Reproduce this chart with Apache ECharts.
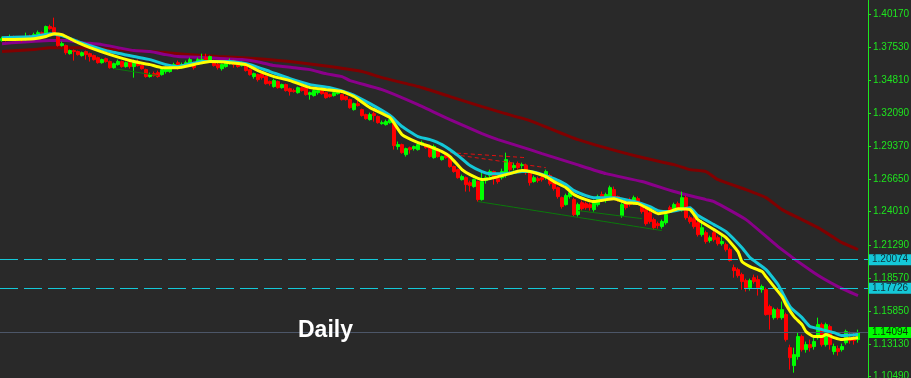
<!DOCTYPE html>
<html><head><meta charset="utf-8">
<script src="https://cdn.jsdelivr.net/npm/echarts@6/dist/echarts.min.js"></script>
<style>html,body{margin:0;padding:0;background:#292929;}#c{width:911px;height:378px;}</style>
</head><body><div id="c"></div>
<script>
// EURUSD daily candles
const openP = [
1.3804,1.3820,1.3812,1.3828,1.3820,1.3828,1.3812,1.3837,1.3828,1.3853,
1.3869,1.3837,1.3919,1.3910,1.3853,1.3763,1.3763,1.3697,1.3722,1.3714,
1.3681,1.3714,1.3697,1.3681,1.3664,1.3623,1.3656,1.3632,1.3582,1.3607,
1.3632,1.3591,1.3623,1.3591,1.3632,1.3599,1.3566,1.3509,1.3533,1.3541,
1.3525,1.3550,1.3550,1.3582,1.3623,1.3582,1.3599,1.3607,1.3623,1.3615,
1.3623,1.3664,1.3640,1.3632,1.3607,1.3574,1.3591,1.3615,1.3640,1.3615,
1.3599,1.3599,1.3566,1.3509,1.3525,1.3533,1.3509,1.3468,1.3427,1.3468,
1.3418,1.3443,1.3410,1.3394,1.3377,1.3418,1.3418,1.3361,1.3353,1.3377,
1.3394,1.3377,1.3361,1.3353,1.3369,1.3361,1.3345,1.3320,1.3238,1.3287,
1.3238,1.3197,1.3156,1.3205,1.3181,1.3123,1.3115,1.3131,1.3156,1.2935,
1.2951,1.2869,1.2926,1.2918,1.2910,1.2951,1.2951,1.2935,1.2844,1.2910,
1.2828,1.2861,1.2853,1.2771,1.2746,1.2664,1.2680,1.2639,1.2607,1.2648,
1.2500,1.2656,1.2697,1.2730,1.2672,1.2680,1.2705,1.2803,1.2762,1.2795,
1.2779,1.2779,1.2721,1.2648,1.2672,1.2680,1.2680,1.2697,1.2639,1.2598,
1.2516,1.2459,1.2525,1.2500,1.2377,1.2475,1.2467,1.2459,1.2418,1.2459,
1.2541,1.2492,1.2525,1.2582,1.2525,1.2369,1.2475,1.2500,1.2475,1.2508,
1.2459,1.2418,1.2393,1.2336,1.2303,1.2279,1.2311,1.2434,1.2426,1.2467,
1.2418,1.2516,1.2352,1.2344,1.2311,1.2213,1.2229,1.2164,1.2229,1.2188,
1.2139,1.2131,1.2090,1.1942,1.1926,1.1885,1.1836,1.1778,1.1860,1.1844,
1.1762,1.1762,1.1623,1.1532,1.1598,1.1532,1.1557,1.1286,1.1139,1.1213,
1.1377,1.1270,1.1311,1.1295,1.1368,1.1475,1.1311,1.1459,1.1254,1.1278,
1.1270,1.1327,1.1360,1.1368,1.1352];
const closeP = [
1.3820,1.3812,1.3828,1.3820,1.3828,1.3812,1.3837,1.3828,1.3853,1.3869,
1.3861,1.3919,1.3902,1.3853,1.3763,1.3779,1.3705,1.3722,1.3714,1.3689,
1.3705,1.3689,1.3673,1.3648,1.3623,1.3648,1.3632,1.3582,1.3615,1.3632,
1.3591,1.3623,1.3591,1.3632,1.3599,1.3574,1.3509,1.3525,1.3517,1.3509,
1.3566,1.3582,1.3582,1.3607,1.3591,1.3607,1.3623,1.3648,1.3582,1.3648,
1.3648,1.3648,1.3673,1.3599,1.3582,1.3607,1.3623,1.3640,1.3607,1.3591,
1.3623,1.3558,1.3525,1.3533,1.3484,1.3500,1.3451,1.3451,1.3476,1.3418,
1.3443,1.3394,1.3386,1.3386,1.3418,1.3394,1.3361,1.3377,1.3394,1.3394,
1.3369,1.3336,1.3345,1.3377,1.3394,1.3320,1.3320,1.3254,1.3287,1.3271,
1.3189,1.3164,1.3197,1.3189,1.3131,1.3131,1.3140,1.3156,1.2943,1.2951,
1.2885,1.2918,1.2910,1.2935,1.2951,1.2967,1.2926,1.2853,1.2935,1.2853,
1.2853,1.2844,1.2771,1.2730,1.2680,1.2689,1.2623,1.2615,1.2664,1.2500,
1.2648,1.2680,1.2730,1.2672,1.2648,1.2730,1.2828,1.2746,1.2779,1.2762,
1.2787,1.2721,1.2639,1.2680,1.2656,1.2664,1.2730,1.2631,1.2590,1.2525,
1.2443,1.2533,1.2557,1.2377,1.2459,1.2426,1.2434,1.2434,1.2475,1.2525,
1.2500,1.2541,1.2598,1.2516,1.2500,1.2459,1.2434,1.2459,1.2516,1.2475,
1.2402,1.2303,1.2320,1.2270,1.2287,1.2320,1.2377,1.2418,1.2459,1.2426,
1.2516,1.2352,1.2320,1.2279,1.2213,1.2270,1.2156,1.2188,1.2172,1.2139,
1.2156,1.2090,1.2000,1.1918,1.1877,1.1828,1.1778,1.1836,1.1828,1.1778,
1.1787,1.1557,1.1557,1.1598,1.1532,1.1598,1.1352,1.1204,1.1229,1.1377,
1.1270,1.1311,1.1286,1.1336,1.1475,1.1311,1.1475,1.1311,1.1295,1.1254,
1.1295,1.1418,1.1344,1.1344,1.1409];
const lowP = [
1.3796,1.3796,1.3804,1.3812,1.3804,1.3796,1.3804,1.3812,1.3820,1.3837,
1.3845,1.3828,1.3894,1.3845,1.3755,1.3755,1.3689,1.3689,1.3640,1.3681,
1.3673,1.3648,1.3632,1.3640,1.3615,1.3615,1.3623,1.3574,1.3574,1.3599,
1.3582,1.3582,1.3574,1.3500,1.3591,1.3566,1.3500,1.3500,1.3509,1.3500,
1.3517,1.3533,1.3541,1.3574,1.3566,1.3574,1.3591,1.3599,1.3566,1.3607,
1.3615,1.3640,1.3632,1.3591,1.3566,1.3558,1.3582,1.3607,1.3582,1.3582,
1.3591,1.3550,1.3517,1.3492,1.3468,1.3484,1.3443,1.3435,1.3418,1.3410,
1.3410,1.3386,1.3353,1.3377,1.3369,1.3386,1.3353,1.3320,1.3345,1.3361,
1.3361,1.3328,1.3336,1.3345,1.3361,1.3312,1.3312,1.3246,1.3230,1.3263,
1.3181,1.3156,1.3148,1.3140,1.3123,1.3115,1.3107,1.3123,1.2910,1.2910,
1.2877,1.2853,1.2877,1.2902,1.2902,1.2943,1.2918,1.2844,1.2836,1.2844,
1.2820,1.2836,1.2762,1.2721,1.2672,1.2656,1.2566,1.2566,1.2598,1.2484,
1.2492,1.2631,1.2680,1.2623,1.2631,1.2664,1.2680,1.2721,1.2738,1.2746,
1.2754,1.2705,1.2615,1.2639,1.2639,1.2648,1.2664,1.2615,1.2574,1.2508,
1.2426,1.2451,1.2508,1.2361,1.2361,1.2410,1.2418,1.2410,1.2402,1.2443,
1.2484,1.2475,1.2508,1.2500,1.2484,1.2352,1.2418,1.2443,1.2459,1.2459,
1.2385,1.2287,1.2303,1.2254,1.2262,1.2262,1.2295,1.2402,1.2410,1.2410,
1.2402,1.2336,1.2303,1.2262,1.2197,1.2197,1.2139,1.2147,1.2156,1.2123,
1.2123,1.2074,1.1992,1.1860,1.1860,1.1762,1.1746,1.1754,1.1811,1.1713,
1.1737,1.1549,1.1434,1.1516,1.1516,1.1516,1.1336,1.1106,1.1081,1.1188,
1.1254,1.1245,1.1254,1.1270,1.1352,1.1295,1.1295,1.1270,1.1229,1.1221,
1.1254,1.1311,1.1319,1.1311,1.1327];
const highP = [
1.3837,1.3828,1.3853,1.3845,1.3837,1.3837,1.3869,1.3853,1.3869,1.3886,
1.3878,1.3927,1.3935,1.3992,1.3861,1.3796,1.3771,1.3730,1.3730,1.3722,
1.3714,1.3722,1.3705,1.3689,1.3673,1.3656,1.3664,1.3640,1.3623,1.3648,
1.3640,1.3632,1.3632,1.3648,1.3648,1.3607,1.3574,1.3541,1.3550,1.3558,
1.3574,1.3591,1.3599,1.3623,1.3640,1.3623,1.3640,1.3664,1.3632,1.3664,
1.3697,1.3697,1.3681,1.3648,1.3623,1.3615,1.3632,1.3656,1.3648,1.3623,
1.3632,1.3615,1.3574,1.3541,1.3533,1.3541,1.3517,1.3476,1.3492,1.3476,
1.3451,1.3451,1.3418,1.3410,1.3427,1.3427,1.3427,1.3386,1.3402,1.3402,
1.3402,1.3386,1.3369,1.3386,1.3402,1.3369,1.3353,1.3328,1.3295,1.3312,
1.3246,1.3205,1.3213,1.3222,1.3189,1.3148,1.3156,1.3172,1.3164,1.2976,
1.2959,1.2926,1.2935,1.2943,1.2967,1.2984,1.2959,1.2943,1.2951,1.2918,
1.2861,1.2869,1.2861,1.2779,1.2754,1.2705,1.2689,1.2656,1.2672,1.2656,
1.2730,1.2697,1.2746,1.2738,1.2689,1.2754,1.2885,1.2820,1.2803,1.2812,
1.2803,1.2795,1.2730,1.2697,1.2689,1.2697,1.2746,1.2713,1.2648,1.2607,
1.2525,1.2549,1.2582,1.2516,1.2475,1.2492,1.2484,1.2475,1.2500,1.2541,
1.2566,1.2557,1.2615,1.2607,1.2533,1.2475,1.2492,1.2516,1.2533,1.2525,
1.2475,1.2434,1.2410,1.2352,1.2320,1.2336,1.2393,1.2451,1.2475,1.2484,
1.2566,1.2533,1.2369,1.2361,1.2328,1.2336,1.2246,1.2205,1.2246,1.2205,
1.2205,1.2147,1.2106,1.1967,1.1942,1.1901,1.1852,1.1852,1.1885,1.1877,
1.1803,1.1778,1.1639,1.1614,1.1614,1.1664,1.1573,1.1311,1.1286,1.1409,
1.1393,1.1336,1.1352,1.1368,1.1532,1.1491,1.1491,1.1475,1.1319,1.1303,
1.1319,1.1434,1.1418,1.1409,1.1434];

// Moving averages, read at sample candles: [candle index, value]
const maYellow = [[0,1.3812],[8,1.3820],[11,1.3837],[13,1.3861],[15,1.3853],[17,1.3820],[19,1.3787],[22,1.3746],[27,1.3689],[33,1.3632],[37,1.3607],[40,1.3582],[44,1.3582],[49,1.3615],[52,1.3632],[57,1.3623],[61,1.3607],[64,1.3558],[68,1.3509],[72,1.3476],[77,1.3418],[81,1.3402],[85,1.3386],[88,1.3345],[92,1.3254],[97,1.3172],[100,1.3033],[104,1.2967],[107,1.2935],[110,1.2894],[112,1.2853],[115,1.2746],[117,1.2705],[120,1.2664],[122,1.2672],[125,1.2697],[127,1.2713],[130,1.2738],[132,1.2730],[136,1.2689],[138,1.2648],[141,1.2598],[143,1.2541],[146,1.2500],[148,1.2484],[151,1.2500],[153,1.2508],[156,1.2475],[159,1.2467],[162,1.2418],[164,1.2385],[167,1.2402],[169,1.2426],[172,1.2418],[174,1.2336],[178,1.2254],[181,1.2188],[184,1.2074],[185,1.1992],[187,1.1951],[190,1.1910],[191,1.1869],[193,1.1787],[195,1.1705],[196,1.1639],[198,1.1541],[200,1.1475],[201,1.1418],[203,1.1377],[205,1.1377],[206,1.1393],[208,1.1368],[210,1.1352],[212,1.1360],[214,1.1368]];
const maCyan = [[0,1.3828],[8,1.3837],[12,1.3861],[15,1.3845],[19,1.3796],[22,1.3763],[27,1.3714],[33,1.3673],[37,1.3648],[41,1.3607],[44,1.3591],[50,1.3632],[57,1.3632],[62,1.3607],[67,1.3550],[72,1.3492],[77,1.3443],[82,1.3418],[87,1.3369],[92,1.3287],[97,1.3189],[100,1.3099],[104,1.3017],[107,1.2992],[110,1.2951],[114,1.2861],[117,1.2779],[120,1.2730],[122,1.2713],[126,1.2713],[130,1.2730],[132,1.2730],[138,1.2672],[141,1.2623],[143,1.2574],[146,1.2533],[148,1.2516],[153,1.2516],[158,1.2484],[162,1.2443],[164,1.2410],[167,1.2402],[172,1.2434],[174,1.2369],[178,1.2295],[181,1.2238],[185,1.2106],[187,1.2024],[191,1.1926],[194,1.1803],[197,1.1623],[200,1.1532],[202,1.1459],[205,1.1434],[208,1.1409],[210,1.1385],[214,1.1393]];
const maPurple = [[0,1.3779],[12,1.3804],[16,1.3804],[20,1.3787],[25,1.3771],[29,1.3746],[33,1.3722],[37,1.3714],[41,1.3689],[44,1.3673],[51,1.3664],[60,1.3648],[65,1.3623],[68,1.3599],[73,1.3582],[77,1.3566],[81,1.3533],[85,1.3509],[87,1.3476],[95,1.3402],[104,1.3279],[112,1.3156],[120,1.3041],[124,1.2992],[132,1.2910],[135,1.2877],[143,1.2795],[151,1.2713],[160,1.2648],[168,1.2566],[176,1.2500],[178,1.2484],[186,1.2336],[194,1.2115],[203,1.1901],[209,1.1787],[214,1.1713]];
const maDarkRed = [[0,1.3714],[8,1.3730],[12,1.3746],[20,1.3746],[25,1.3738],[37,1.3714],[44,1.3697],[54,1.3673],[64,1.3656],[72,1.3632],[80,1.3599],[90,1.3550],[95,1.3500],[104,1.3427],[112,1.3345],[120,1.3263],[125,1.3213],[132,1.3148],[144,1.2992],[159,1.2853],[168,1.2787],[172,1.2746],[176,1.2730],[179,1.2664],[186,1.2582],[191,1.2516],[195,1.2418],[199,1.2352],[204,1.2270],[208,1.2188],[210,1.2147],[214,1.2090]];

// Drawn trend lines
const greenLine1 = [[28,1.3574],[39,1.3517]];
const greenLine2 = [[119,1.2484],[165,1.2246]];
const greenLine3 = [[144,1.2410],[160,1.2344]];
const redDash1 = [[112,1.2885],[131,1.2844]];
const redDash2 = [[113,1.2869],[136,1.2762]];

// Levels and axis ticks
const levelLines = [1.20074, 1.17726];
const lastPrice = 1.14094;
const tickValues = [1.40170,1.37530,1.34810,1.32090,1.29370,1.26650,1.24010,1.21290,1.18570,1.15850,1.13130,1.10490];
const yMin = 1.103726, yMax = 1.413686;
const categories = Array.from({length: 217}, (_, i) => 'D' + i);

const candles = openP.map((o, i) => [o, closeP[i], lowP[i], highP[i]]);

const chart = echarts.init(document.getElementById('c'), null, {renderer: 'canvas'});
const FONT = '"Liberation Sans", Arial, sans-serif';
const CYAN = '#14c8d8';

function lineSeries(data, color, width, z, dash) {
  return {type: 'line', data: data, symbol: 'none', silent: true, z: z,
    lineStyle: {color: color, width: width, type: dash || 'solid'}, smooth: 0.15};
}
function levelSeries(value, lineColor, dash, boxColor, textColor, z) {
  return {type: 'line', data: [], silent: true, z: z, symbol: 'none',
    markLine: {symbol: 'none', silent: true, animation: false, precision: 5,
      lineStyle: {color: lineColor, width: 1, type: dash, opacity: 1},
      emphasis: {disabled: true},
      data: [{yAxis: value,
        lineStyle: {color: lineColor, width: 1, type: dash, opacity: 1},
        label: {show: true, position: 'end', distance: 1, formatter: () => value.toFixed(5),
          backgroundColor: boxColor, color: textColor, fontSize: 10, fontFamily: FONT,
          lineHeight: 10, padding: [1, 3, 0, 3]}}]}};
}

chart.setOption({
  animation: false,
  backgroundColor: '#292929',
  title: {text: 'Daily', left: 298, top: 319, padding: 0,
    textStyle: {color: '#ffffff', fontWeight: 'bold', fontSize: 23, fontFamily: FONT,
      textShadowColor: '#2a46ff', textShadowOffsetX: -1, textShadowOffsetY: 1, textShadowBlur: 0}},
  grid: {left: 0, right: 43, top: 0, bottom: 0, containLabel: false, outerBoundsMode: 'none'},
  xAxis: {type: 'category', data: categories, boundaryGap: true, show: false},
  yAxis: {type: 'value', position: 'right', min: yMin, max: yMax, scale: true,
    splitLine: {show: false},
    axisLine: {show: true, lineStyle: {color: '#1ee61e', width: 1}},
    axisTick: {show: true, inside: false, length: 3, customValues: tickValues, lineStyle: {color: '#1ee61e'}},
    axisLabel: {show: true, customValues: tickValues, color: '#1ee61e', fontSize: 10, fontFamily: FONT, margin: 5,
      hideOverlap: false, formatter: v => Number(v).toFixed(5)}},
  series: [
    lineSeries(maDarkRed, '#800000', 3, 2),
    lineSeries(maPurple, '#8a008a', 3, 2),
    levelSeries(levelLines[0], CYAN, [18, 6], CYAN, '#10303a', 1),
    levelSeries(levelLines[1], CYAN, [18, 6], CYAN, '#10303a', 1),
    levelSeries(lastPrice, '#4c5668', 'solid', '#00ff00', '#0a300a', 1),
    {type: 'candlestick', data: candles, barWidth: 3, z: 3,
      itemStyle: {color: '#00ff00', color0: '#ff0000', borderColor: '#00ff00', borderColor0: '#ff0000', borderWidth: 1}},
    lineSeries(greenLine1, '#0a7a0a', 1, 4),
    lineSeries(greenLine2, '#0a7a0a', 1, 4),
    lineSeries(greenLine3, '#0a7a0a', 1, 4),
    lineSeries(redDash1, '#e01010', 1, 4, [4, 3]),
    lineSeries(redDash2, '#e01010', 1, 4, [4, 3]),
    lineSeries(maCyan, CYAN, 3, 5),
    lineSeries(maYellow, '#ffff00', 3, 6)
  ]
});
</script></body></html>
